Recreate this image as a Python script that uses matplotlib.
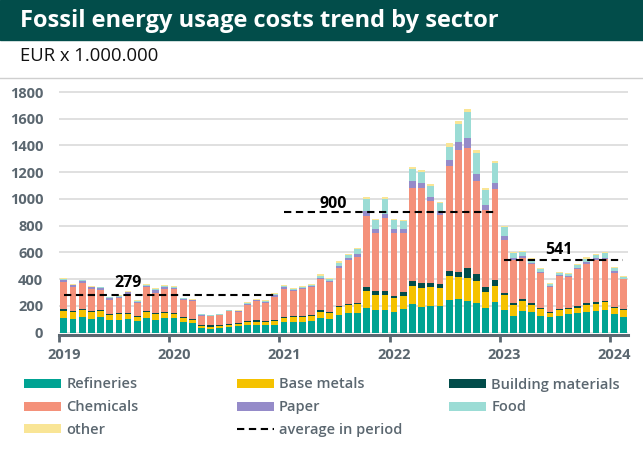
import numpy as np
import matplotlib
matplotlib.use("Agg")
import matplotlib.pyplot as plt
from matplotlib.patches import Patch, Rectangle
from matplotlib.lines import Line2D

plt.rcParams['font.family'] = ['Open Sans', 'DejaVu Sans']

# monthly values, jan 2019 - feb 2024 (EUR x 1.000.000)
refineries = [107, 102, 120, 105, 117, 97, 97, 102, 90, 107, 97, 112,
              107, 82, 70, 32, 30, 37, 42, 47, 55, 60, 55, 60,
              80, 80, 77, 90, 107, 102, 132, 145, 145, 187, 172, 172,
              153, 175, 212, 195, 200, 200, 245, 255, 237, 225, 187, 233,
              170, 127, 165, 157, 127, 117, 127, 137, 147, 157, 165, 170,
              137, 117]
base_metals = [55, 50, 50, 47, 45, 35, 43, 40, 30, 45, 40, 33,
               33, 28, 25, 16, 15, 13, 15, 15, 22, 22, 22, 27,
               30, 35, 38, 35, 50, 45, 60, 62, 67, 125, 110, 110,
               105, 103, 139, 142, 142, 137, 177, 162, 175, 162, 120, 117,
               110, 80, 72, 48, 48, 33, 45, 40, 40, 53, 50, 57,
               48, 50]
building_materials = [13, 8, 10, 8, 8, 8, 7, 8, 7, 8, 8, 7,
                      7, 8, 8, 8, 10, 7, 8, 8, 8, 10, 13, 10,
                      7, 7, 7, 7, 10, 8, 10, 10, 13, 33, 30, 31,
                      20, 28, 39, 38, 33, 28, 43, 40, 70, 53, 38, 45,
                      20, 18, 15, 15, 12, 7, 8, 8, 10, 12, 12, 10,
                      7, 8]
chemicals = [202, 182, 190, 167, 150, 105, 110, 142, 98, 180, 155, 178,
             178, 127, 132, 72, 70, 73, 97, 87, 125, 143, 135, 173,
             213, 190, 205, 213, 233, 222, 285, 323, 340, 527, 433, 545,
             469, 441, 691, 707, 607, 517, 780, 908, 900, 697, 575, 682,
             395, 320, 305, 295, 258, 183, 247, 235, 280, 293, 318, 315,
             258, 225]
paper = [18, 13, 15, 13, 12, 12, 10, 10, 7, 10, 20, 10,
         12, 7, 7, 4, 3, 3, 3, 3, 7, 7, 5, 10,
         10, 8, 6, 7, 10, 10, 10, 15, 20, 35, 27, 32,
         29, 29, 53, 40, 35, 25, 50, 60, 73, 50, 35, 40,
         25, 12, 13, 7, 10, 10, 8, 7, 10, 10, 10, 8,
         12, 5]
food = [10, 5, 7, 5, 8, 8, 8, 5, 5, 7, 7, 7,
        8, 5, 5, 6, 4, 4, 4, 4, 5, 5, 5, 7,
        10, 7, 7, 8, 15, 13, 25, 25, 40, 93, 70, 107,
        65, 56, 91, 83, 80, 63, 97, 135, 197, 160, 115, 151,
        70, 40, 32, 25, 22, 12, 15, 15, 20, 27, 25, 35,
        25, 15]
other = [7, 5, 5, 5, 5, 5, 7, 5, 5, 8, 8, 8,
         5, 5, 3, 4, 4, 3, 3, 3, 8, 8, 7, 8,
         7, 8, 7, 7, 12, 10, 13, 10, 12, 15, 10, 15,
         9, 9, 11, 12, 15, 8, 23, 22, 23, 23, 15, 18,
         7, 10, 10, 15, 10, 8, 7, 8, 8, 13, 10, 12,
         8, 5]

years = ['2019', '2020', '2021', '2022', '2023', '2024']

# average per period: first month, last month, value
avg_start = [0, 24, 48]
avg_end = [23, 47, 61]
avg_value = [279, 900, 541]

series = [
    ('Refineries', refineries, '#00a393'),
    ('Base metals', base_metals, '#f5c200'),
    ('Building materials', building_materials, '#024c4a'),
    ('Chemicals', chemicals, '#f4917a'),
    ('Paper', paper, '#958bc9'),
    ('Food', food, '#9bdcd5'),
    ('other', other, '#f9e596'),
]

grey = '#5b6770'

fig = plt.figure(figsize=(6.43, 4.55), dpi=100)
W, H = 643, 455

# header
fig.add_artist(Rectangle((0, 1 - 39.5 / H), 1, 39.5 / H, transform=fig.transFigure,
                         color='#024d4a', zorder=0))
fig.text(20 / W, 1 - 27 / H, 'Fossil energy usage costs trend by sector', color='white',
         fontsize=17, fontweight='bold', va='baseline', ha='left')
fig.text(20 / W, 1 - 61 / H, 'EUR x 1.000.000', color='#111111', fontsize=13.3,
         va='baseline', ha='left')
fig.add_artist(Line2D([0, 1], [1 - 78.3 / H] * 2, transform=fig.transFigure,
                      color='#cfcfcf', lw=1))

ax = fig.add_axes([59.3 / W, (H - 332.7) / H, (628 - 59.3) / W, (332.7 - 88) / H])

x = np.arange(len(refineries)) + 0.5
bottom = np.zeros(len(refineries))
handles = {}
for name, vals, col in series:
    vals = np.array(vals, dtype=float)
    ax.bar(x, vals, width=0.74, bottom=bottom, color=col, linewidth=0, zorder=2)
    bottom += vals
    handles[name] = Patch(facecolor=col, edgecolor='none')

for s, e, v in zip(avg_start, avg_end, avg_value):
    ax.plot([s + 0.5, e + 0.5], [v, v], color='black', lw=1.5, dashes=(3.5, 2.2), zorder=3)

ax.text(7.44, 372, str(avg_value[0]), ha='center', va='center', fontsize=11.5, fontweight='bold')
ax.text(29.87, 964, str(avg_value[1]), ha='center', va='center', fontsize=11.5, fontweight='bold')
ax.text(54.5, 618, str(avg_value[2]), ha='center', va='center', fontsize=11.5, fontweight='bold')

ax.set_xlim(0, 62.0)
ax.set_ylim(0, 1830)
ax.set_yticks(range(0, 1801, 200))
ax.yaxis.grid(True, color='#dddddd', lw=1.3, zorder=0)
ax.set_axisbelow(True)
for sp in ['top', 'right', 'left']:
    ax.spines[sp].set_visible(False)
ax.spines['bottom'].set_color(grey)
ax.spines['bottom'].set_linewidth(2.2)
ax.spines['bottom'].set_position(('outward', 1.5))
ax.tick_params(axis='y', length=0, pad=11.5, labelsize=10.5, labelcolor=grey)
for lab in ax.get_yticklabels():
    lab.set_fontweight('bold')

ax.set_xticks([12 * i for i in range(len(years))])
ax.set_xticklabels([])
ax.tick_params(axis='x', which='major', length=5, width=2, color=grey)
ax.set_xticks([12 * i + 0.5 for i in range(len(years))], minor=True)
ax.set_xticklabels(years, minor=True, fontsize=10.5, fontweight='bold', color=grey)
ax.tick_params(axis='x', which='minor', length=0, pad=9.5)

avg_handle = Line2D([], [], color='black', lw=1.5, dashes=(3.5, 2.2))
cols = [
    (['Refineries', 'Chemicals', 'other'], 24.3),
    (['Base metals', 'Paper', 'average in period'], 236.7),
    (['Building materials', 'Food'], 449),
]
for labels, x0 in cols:
    hs = [handles[l] if l in handles else avg_handle for l in labels]
    fig.legend(hs, labels, loc='upper left', bbox_to_anchor=(x0 / W, (H - 377.5) / H),
               frameon=False, handlelength=2.55, handleheight=0.58,
               handletextpad=0.35, labelspacing=0.6, borderpad=0, borderaxespad=0,
               labelcolor=grey, prop={'weight': 'semibold', 'size': 10.5})

fig.savefig('out.png', dpi=100)
